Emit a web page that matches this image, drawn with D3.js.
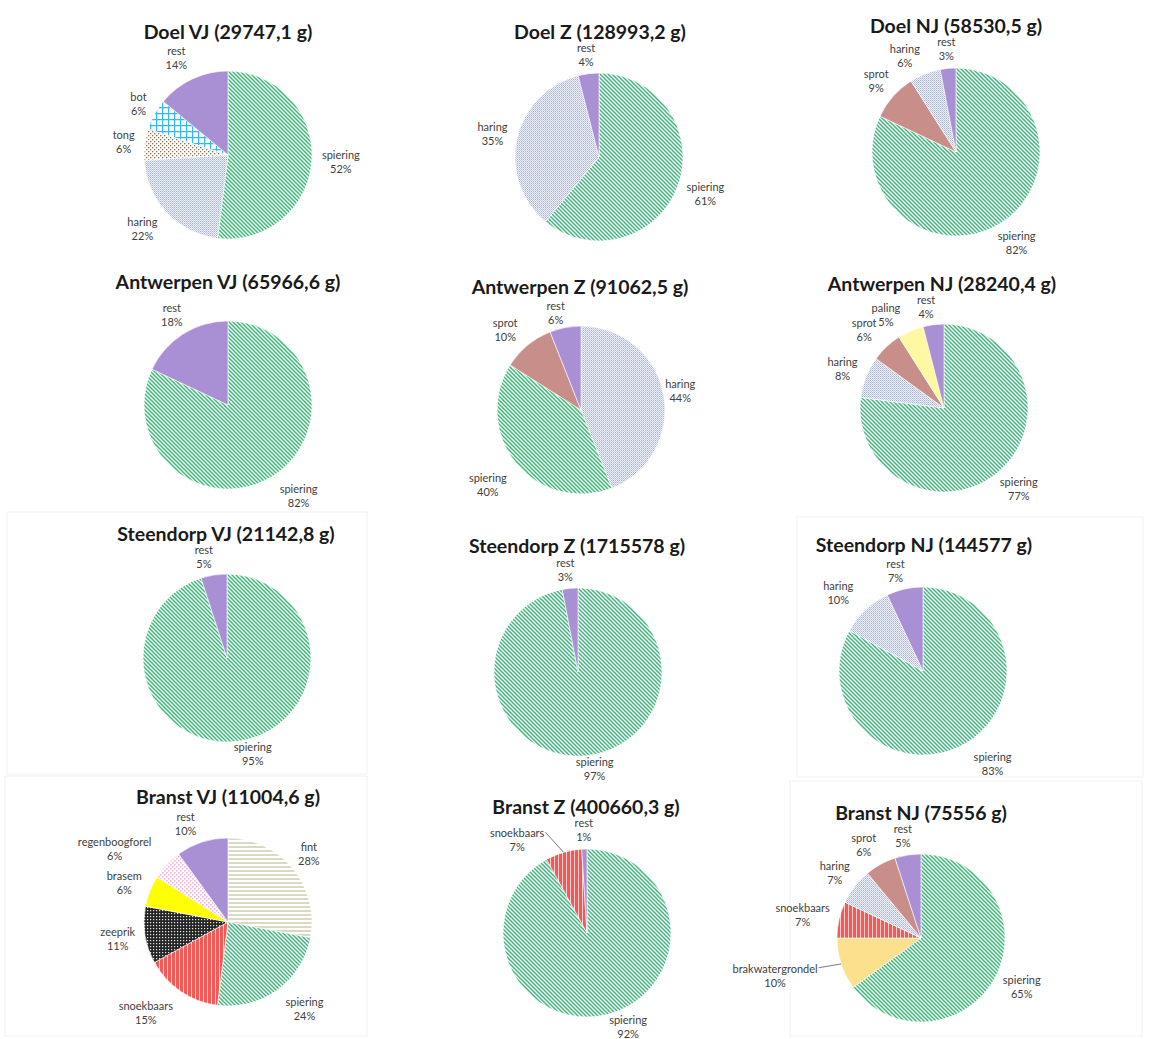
<!DOCTYPE html>
<html>
<head>
<meta charset="utf-8">
<script src="https://cdn.jsdelivr.net/npm/d3@7"></script>
<style>
  body { margin: 0; background: #ffffff; }
  svg { display: block; }
  .title { font-family: Lato, "Open Sans", sans-serif; font-weight: 700; font-size: 19.5px; fill: #1a1a1a; }
  .lbl { font-family: Lato, "Open Sans", sans-serif; font-size: 11px; fill: #404040; }
</style>
</head>
<body>
<svg id="chart" width="1151" height="1039"></svg>
<script>
// Catch composition (share of total weight, %) per site and season
const titles = [
  "Doel VJ (29747,1 g)", "Doel Z (128993,2 g)", "Doel NJ (58530,5 g)",
  "Antwerpen VJ (65966,6 g)", "Antwerpen Z (91062,5 g)", "Antwerpen NJ (28240,4 g)",
  "Steendorp VJ (21142,8 g)", "Steendorp Z (1715578 g)", "Steendorp NJ (144577 g)",
  "Branst VJ (11004,6 g)", "Branst Z (400660,3 g)", "Branst NJ (75556 g)"
];

const doelVJSpecies = ["spiering", "haring", "tong", "bot", "rest"];
const doelVJShares  = [52, 22, 6, 6, 14];
const doelZSpecies  = ["spiering", "haring", "rest"];
const doelZShares   = [61, 35, 4];
const doelNJSpecies = ["spiering", "sprot", "haring", "rest"];
const doelNJShares  = [82, 9, 6, 3];

const antwVJSpecies = ["spiering", "rest"];
const antwVJShares  = [82, 18];
const antwZSpecies  = ["haring", "spiering", "sprot", "rest"];
const antwZShares   = [44, 40, 10, 6];
const antwNJSpecies = ["spiering", "haring", "sprot", "paling", "rest"];
const antwNJShares  = [77, 8, 6, 5, 4];

const steenVJSpecies = ["spiering", "rest"];
const steenVJShares  = [95, 5];
const steenZSpecies  = ["spiering", "rest"];
const steenZShares   = [97, 3];
const steenNJSpecies = ["spiering", "haring", "rest"];
const steenNJShares  = [83, 10, 7];

const branstVJSpecies = ["fint", "spiering", "snoekbaars", "zeeprik", "brasem", "regenboogforel", "rest"];
const branstVJShares  = [28, 24, 15, 11, 6, 6, 10];
const branstZSpecies  = ["spiering", "snoekbaars", "rest"];
const branstZShares   = [92, 7, 1];
const branstNJSpecies = ["spiering", "brakwatergrondel", "snoekbaars", "haring", "sprot", "rest"];
const branstNJShares  = [65, 10, 7, 7, 6, 5];

const speciesSets = [doelVJSpecies, doelZSpecies, doelNJSpecies, antwVJSpecies, antwZSpecies, antwNJSpecies,
                     steenVJSpecies, steenZSpecies, steenNJSpecies, branstVJSpecies, branstZSpecies, branstNJSpecies];
const shareSets = [doelVJShares, doelZShares, doelNJShares, antwVJShares, antwZShares, antwNJShares,
                   steenVJShares, steenZShares, steenNJShares, branstVJShares, branstZShares, branstNJShares];

// ---- layout (separate from the data) ----
const radius = 84;
const panels = [
  { cx: 228, cy: 155, tx: 228, ty: 39 },
  { cx: 599, cy: 157, tx: 600, ty: 39 },
  { cx: 956, cy: 152, tx: 956, ty: 33 },
  { cx: 228, cy: 405, tx: 228, ty: 289 },
  { cx: 581, cy: 410, tx: 580, ty: 294 },
  { cx: 944, cy: 408, tx: 942, ty: 291 },
  { cx: 227, cy: 658, tx: 226, ty: 541 },
  { cx: 578, cy: 672, tx: 577, ty: 553 },
  { cx: 923, cy: 671, tx: 924, ty: 552 },
  { cx: 228, cy: 922, tx: 228, ty: 804 },
  { cx: 587, cy: 933, tx: 586, ty: 814 },
  { cx: 921, cy: 938, tx: 921, ty: 820 }
];
// faint frames of the individual chart areas
const frames = [
  [7, 512, 360, 262], [797, 517, 346, 260], [5, 776, 362, 260], [790, 781, 352, 255]
];

// label nudges "panel:slice" -> [dx, dy], optional leader line
const labelNudge = {
  "0:1": [-6, 0], "0:4": [-7, 0],
  "1:2": [0, 4],
  "2:2": [-11, 3], "2:3": [0, 4],
  "3:0": [10, 0],
  "4:0": [-8, 1], "4:1": [-6, 6], "4:2": [-8, 2], "4:3": [-6, 8],
  "5:2": [-7, 0], "5:3": [-15, 5], "5:4": [-5, 5],
  "6:0": [8, -11], "6:1": [-7, 5],
  "7:0": [6, -11], "7:1": [-3, 5],
  "8:0": [12, 0], "8:1": [-10, 0], "8:2": [-5, 4],
  "9:1": [10, 0], "9:2": [-14, 2], "9:5": [-18, 0], "9:6": [-10, 4],
  "10:0": [13, -11], "10:1": [-36, 10, true], "10:2": [0, 4],
  "11:1": [-16, 4, true], "11:4": [-6, 1], "11:5": [-2, 4]
};

// ---- fill patterns per species ----
const svg = d3.select("#chart");
const defs = svg.append("defs");

function pattern(id, w, h, draw) {
  const p = defs.append("pattern").attr("id", id)
    .attr("patternUnits", "userSpaceOnUse").attr("width", w).attr("height", h);
  draw(p);
}
pattern("p-spiering", 4, 4, p => {
  p.append("rect").attr("width", 4).attr("height", 4).attr("fill", "#ffffff");
  p.append("path").attr("d", "M-1,-1L5,5M-1,3L1,5M3,-1L5,1")
    .attr("stroke", "#3cb879").attr("stroke-width", 1.5);
});
pattern("p-haring", 2, 2, p => {
  p.append("rect").attr("width", 2).attr("height", 2).attr("fill", "#eef0f8");
  p.append("rect").attr("width", 1).attr("height", 1).attr("fill", "#a9b3d3");
  p.append("rect").attr("x", 1).attr("y", 1).attr("width", 1).attr("height", 1).attr("fill", "#c4cbe2");
});
pattern("p-tong", 4, 4, p => {
  p.append("rect").attr("width", 4).attr("height", 4).attr("fill", "#ffffff");
  p.append("rect").attr("width", 1.3).attr("height", 1.3).attr("fill", "#8c7256");
  p.append("rect").attr("x", 2).attr("y", 2).attr("width", 1.3).attr("height", 1.3).attr("fill", "#8c7256");
});
pattern("p-bot", 6, 6, p => {
  p.append("rect").attr("width", 6).attr("height", 6).attr("fill", "#ffffff");
  p.append("path").attr("d", "M0,0.6H6M0.6,0V6").attr("stroke", "#36b8ee").attr("stroke-width", 1.3);
});
pattern("p-fint", 4, 4, p => {
  p.append("rect").attr("width", 4).attr("height", 4).attr("fill", "#ffffff");
  p.append("path").attr("d", "M0,1H4").attr("stroke", "#c6c7a4").attr("stroke-width", 1.3);
});
pattern("p-snoekbaars", 4, 4, p => {
  p.append("rect").attr("width", 4).attr("height", 4).attr("fill", "#f25a58");
  p.append("path").attr("d", "M3.5,0V4").attr("stroke", "#ffd0d0").attr("stroke-width", 1);
});
pattern("p-zeeprik", 3, 3, p => {
  p.append("rect").attr("width", 3).attr("height", 3).attr("fill", "#262626");
  p.append("rect").attr("width", 1.2).attr("height", 1.2).attr("fill", "#e8e8e8");
});
pattern("p-regenboogforel", 4, 4, p => {
  p.append("rect").attr("width", 4).attr("height", 4).attr("fill", "#ffffff");
  p.append("rect").attr("width", 1.6).attr("height", 1.6).attr("fill", "#f2b4dc");
  p.append("rect").attr("x", 2).attr("y", 2).attr("width", 1.6).attr("height", 1.6).attr("fill", "#f2b4dc");
});
const solidFill = {
  rest: "#a98fd3",
  sprot: "#c88f8a",
  paling: "#fff8a2",
  brasem: "#ffff00",
  brakwatergrondel: "#fde08d"
};
const fillFor = name => solidFill[name] || `url(#p-${name})`;

// ---- frames ----
svg.selectAll("rect.frame").data(frames).join("rect").attr("class", "frame")
  .attr("x", d => d[0]).attr("y", d => d[1]).attr("width", d => d[2]).attr("height", d => d[3])
  .attr("fill", "none").attr("stroke", "#f2f2f2").attr("stroke-width", 1);

// ---- pies ----
const pie = d3.pie().sort(null).value(d => d);
const arc = d3.arc().innerRadius(0).outerRadius(radius);
const gap = 10;

panels.forEach((pos, pi) => {
  const names = speciesSets[pi];
  const vals = shareSets[pi];
  const arcs = pie(vals);

  svg.append("text").attr("class", "title")
    .attr("x", pos.tx).attr("y", pos.ty).attr("text-anchor", "middle").text(titles[pi]);

  const g = svg.append("g").attr("transform", `translate(${pos.cx},${pos.cy})`);
  g.selectAll("path.slice").data(arcs).join("path").attr("class", "slice")
    .attr("d", arc)
    .attr("fill", (d, i) => fillFor(names[i]))
    .attr("stroke", "#ffffff").attr("stroke-width", 0.6);

  arcs.forEach((d, i) => {
    const a = (d.startAngle + d.endAngle) / 2;
    const sx = Math.sin(a), sy = -Math.cos(a);
    const t = g.append("text").attr("class", "lbl").attr("text-anchor", "middle");
    t.append("tspan").attr("x", 0).attr("dy", 0).text(names[i]);
    t.append("tspan").attr("x", 0).attr("dy", 14).text(vals[i] + "%");
    const bb = t.node().getBBox();
    const nudge = labelNudge[pi + ":" + i] || [0, 0];
    const lx = sx * (radius + gap) + sx * bb.width / 2 + nudge[0];
    const ly = sy * (radius + gap) + sy * bb.height / 2 + nudge[1];
    t.attr("transform", `translate(${lx},${ly - (bb.y + bb.height / 2)})`);
    if (nudge[2]) {
      // leader from the label edge to the slice rim
      const ex = sx * radius, ey = sy * radius;
      const startX = lx + (ex > lx ? bb.width / 2 + 1 : -bb.width / 2 - 1);
      const startY = ly - bb.height / 2 + 6;
      g.append("line").attr("x1", startX).attr("y1", startY).attr("x2", ex).attr("y2", ey)
        .attr("stroke", "#595959").attr("stroke-width", 0.8);
    }
  });
});
</script>
</body>
</html>
